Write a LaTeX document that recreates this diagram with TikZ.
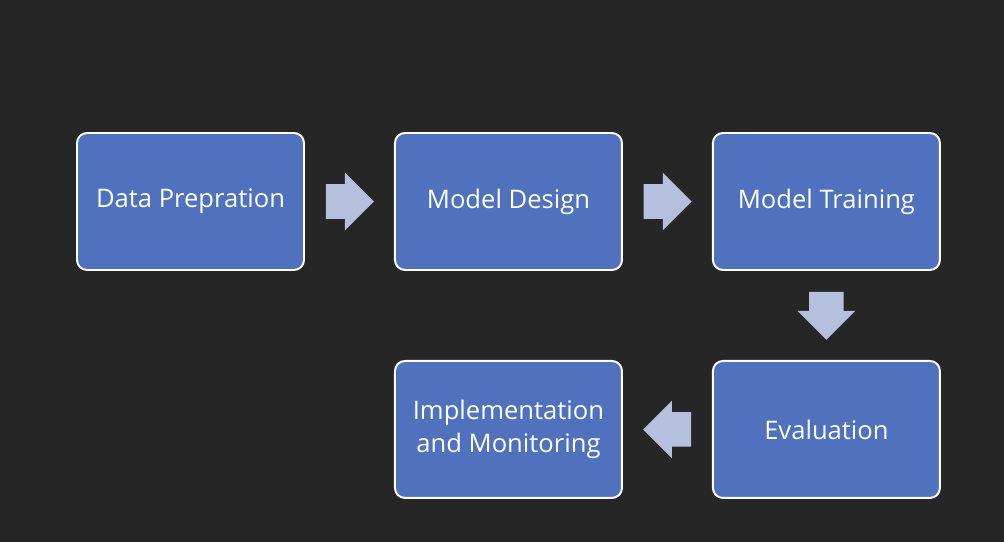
\documentclass[tikz,border=0pt]{standalone}
\usepackage{fontspec}
\setmainfont{Open Sans}
\usepackage{tikz}
\usetikzlibrary{positioning,shapes.arrows,calc}

\definecolor{bgdark}{HTML}{262626}
\definecolor{boxblue}{HTML}{4F71BE}
\definecolor{arrowblue}{HTML}{B4C0DE}

\begin{document}
\begin{tikzpicture}[node distance=2.225cm,
    every node/.style={font=\fontsize{18.2}{23.4}\selectfont},
    stage/.style={draw=white, line width=1.4pt, fill=boxblue, rounded corners=0.25cm, minimum width=5.675cm, minimum height=3.425cm, align=center, text=white},
    flow/.style={single arrow, fill=arrowblue, draw=none, anchor=tail, minimum height=1.2cm, single arrow head extend=0.2875cm, single arrow head indent=0pt, inner xsep=0pt, inner ysep=0.425cm},
    flowdown/.style={flow, shape border rotate=270, inner xsep=0.425cm, inner ysep=0pt},
]
% Background
\fill[bgdark] (-4.7625,-8.5125) rectangle (20.3375,5.0375);
\useasboundingbox (-4.7625,-8.5125) rectangle (20.3375,5.0375);

\node[stage] (prep) at (0,0) {Data Prepration};
\node[stage, right=of prep] (design) {Model Design};
\node[stage, right=of design] (train) {Model Training};
\node[stage, below=of train] (eval) {Evaluation};
\node[stage, left=of eval] (impl) {Implementation\\and Monitoring};

% Block arrows between stages
\node[flow] (a1) at ($(prep.east)!0.5!(design.west)+(-0.6,0)$) {};
\node[flow] (a2) at ($(design.east)!0.5!(train.west)+(-0.6,0)$) {};
\node[flowdown] (a3) at ($(train.south)!0.5!(eval.north)+(0,0.6)$) {};
\node[flow, shape border rotate=180] (a4) at ($(eval.west)!0.5!(impl.east)+(0.6,0)$) {};

\end{tikzpicture}
\end{document}
